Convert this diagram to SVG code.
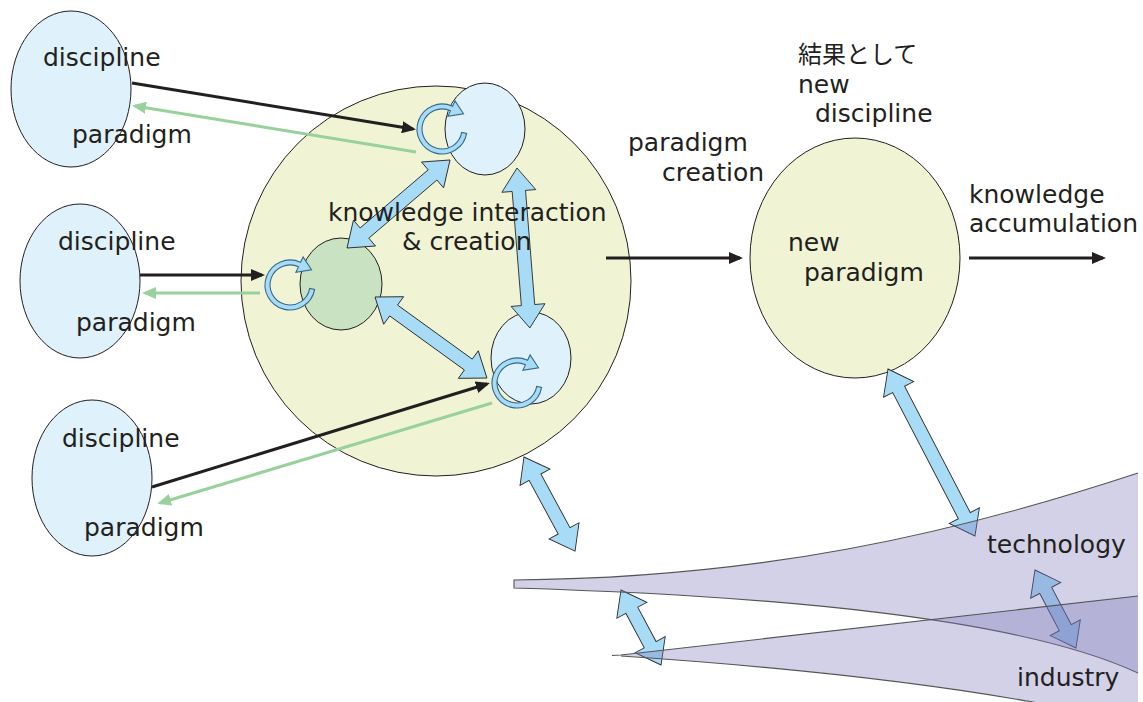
<svg xmlns="http://www.w3.org/2000/svg" width="1143" height="702" viewBox="0 0 1143 702">
<defs>
<style>
text{font-family:"DejaVu Sans","Noto Sans CJK JP",sans-serif;font-size:25px;fill:#231f20}
.jp{font-family:"Noto Sans CJK JP",sans-serif;font-size:24px}
.src{fill:#dff1fa;stroke:#231f20;stroke-width:1}
.big{fill:#f0f4d4;stroke:#231f20;stroke-width:1}
.green{fill:#c9e2c1;stroke:#231f20;stroke-width:1}
.blk{stroke:#231f20;stroke-width:3;fill:none}
.grn{stroke:#98d19b;stroke-width:3;fill:none}
.barrow{fill:#a8dcf6;stroke:#2d2d2d;stroke-width:0.9;stroke-linejoin:miter}
.ring{fill:#a8dcf6;stroke:#35678f;stroke-width:1.1}
.wedge{fill:#78729a;fill-opacity:0.33;stroke:none}
.wedge2{fill:rgb(120,114,186);fill-opacity:0.33;stroke:none}
.edge{fill:none;stroke:#555;stroke-width:1.1}
</style>
<marker id="ab" markerWidth="14" markerHeight="12" refX="11" refY="6" orient="auto" markerUnits="userSpaceOnUse"><path d="M0,0L14,6L0,12z" fill="#231f20"/></marker>
<marker id="ag" markerWidth="14" markerHeight="12" refX="11" refY="6" orient="auto" markerUnits="userSpaceOnUse"><path d="M0,0L14,6L0,12z" fill="#98d19b"/></marker>
<path id="cyc" d="M24.62,4.34 A25,25 0 1 1 10.57,-22.66 L13.1,-28.1 L21.5,-15.2 L5.9,-12.7 L8.45,-18.13 A20,20 0 1 0 19.70,3.47 Z"/>
</defs>

<g id="discipline1"><ellipse class="src" cx="71" cy="89" rx="60" ry="78"/></g>
<g id="discipline2"><ellipse class="src" cx="80" cy="281" rx="60" ry="77"/></g>
<g id="discipline3"><ellipse class="src" cx="92" cy="478" rx="60" ry="78"/></g>

<g id="interaction"><circle class="big" cx="436" cy="281" r="195"/></g>
<g id="inner-top"><ellipse class="src" cx="485" cy="129" rx="40" ry="46"/></g>
<g id="inner-green"><ellipse class="green" cx="341" cy="284" rx="41" ry="46"/></g>
<g id="inner-bottom"><ellipse class="src" cx="531" cy="358" rx="40" ry="46"/></g>

<g id="inner-arrows">
<path class="barrow" transform="translate(347,248) rotate(-40.5)" d="M0,0 L23,-17 L23,-6.7 L112.5,-6.7 L112.5,-17 L135.5,0 L112.5,17 L112.5,6.7 L23,6.7 L23,17 Z"/>
<path class="barrow" transform="translate(517,168) rotate(85.4)" d="M0,0 L23,-17 L23,-6.7 L137.5,-6.7 L137.5,-17 L160.5,0 L137.5,17 L137.5,6.7 L23,6.7 L23,17 Z"/>
<path class="barrow" transform="translate(375,297) rotate(35.9)" d="M0,0 L23,-17 L23,-6.7 L115.2,-6.7 L115.2,-17 L138.2,0 L115.2,17 L115.2,6.7 L23,6.7 L23,17 Z"/>
</g>

<g id="cycles">
<use href="#cyc" class="ring" transform="translate(442,129)"/>
<use href="#cyc" class="ring" transform="translate(290,285)"/>
<use href="#cyc" class="ring" transform="translate(517,383)"/>
</g>

<g id="connectors">
<line class="blk" x1="132" y1="83" x2="413" y2="129" marker-end="url(#ab)"/>
<line class="grn" x1="416" y1="152" x2="135" y2="106" marker-end="url(#ag)"/>
<line class="blk" x1="140" y1="275" x2="262" y2="275" marker-end="url(#ab)"/>
<line class="grn" x1="260" y1="293" x2="145" y2="293" marker-end="url(#ag)"/>
<line class="blk" x1="152" y1="487" x2="487" y2="384" marker-end="url(#ab)"/>
<line class="grn" x1="492" y1="403" x2="160" y2="503" marker-end="url(#ag)"/>
<line class="blk" x1="606" y1="258" x2="740" y2="258" marker-end="url(#ab)"/>
<line class="blk" x1="969" y1="258" x2="1103" y2="258" marker-end="url(#ab)"/>
</g>

<g id="new-paradigm"><ellipse class="big" cx="855" cy="258" rx="105" ry="120"/></g>

<g id="outer-arrows">
<path class="barrow" transform="translate(524,457) rotate(61.5)" d="M0,0 L23,-17 L23,-6.7 L84,-6.7 L84,-17 L107,0 L84,17 L84,6.7 L23,6.7 L23,17 Z"/>
<path class="barrow" transform="translate(888,369) rotate(62.5)" d="M0,0 L23,-17 L23,-6.7 L165.3,-6.7 L165.3,-17 L188.3,0 L165.3,17 L165.3,6.7 L23,6.7 L23,17 Z"/>
<path class="barrow" transform="translate(1035,570) rotate(62.3)" d="M0,0 L23,-17 L23,-6.7 L65.1,-6.7 L65.1,-17 L88.1,0 L65.1,17 L65.1,6.7 L23,6.7 L23,17 Z"/>
<path class="barrow" transform="translate(621,590) rotate(61.9)" d="M0,0 L23,-17 L23,-6.7 L62,-6.7 L62,-17 L85,0 L62,17 L62,6.7 L23,6.7 L23,17 Z"/>
</g>

<g id="technology">
<path class="wedge2" d="M514,580 C760,578 950,535 1138,473 L1138,673 C1020,618 780,596 514,588 Z"/>
<path class="edge" d="M1138,473 C950,535 760,578 514,580 L514,588 C780,596 1020,618 1138,673"/>
</g>
<g id="industry">
<path class="wedge2" d="M621,655 L1138,596 L1138,710 L1075,710 C950,685 800,668 621,656 Z"/>
<path class="edge" d="M1138,596 L621,655 L612,655.5 M621,656 C800,668 950,685 1075,710"/>
</g>

<g id="labels">
<text x="43" y="66">discipline</text>
<text x="72" y="143">paradigm</text>
<text x="58" y="250">discipline</text>
<text x="76" y="331">paradigm</text>
<text x="62" y="447">discipline</text>
<text x="84" y="536">paradigm</text>
<text x="328" y="221">knowledge interaction</text>
<text x="402" y="250">&amp; creation</text>
<text x="628" y="151">paradigm</text>
<text x="662" y="181">creation</text>
<text class="jp" x="798" y="63">結果として</text>
<text x="798" y="93">new</text>
<text x="815" y="122">discipline</text>
<text x="788" y="251">new</text>
<text x="804" y="281">paradigm</text>
<text x="969" y="203">knowledge</text>
<text x="969" y="232">accumulation</text>
<text x="987" y="553">technology</text>
<text x="1017" y="686">industry</text>
</g>
</svg>
